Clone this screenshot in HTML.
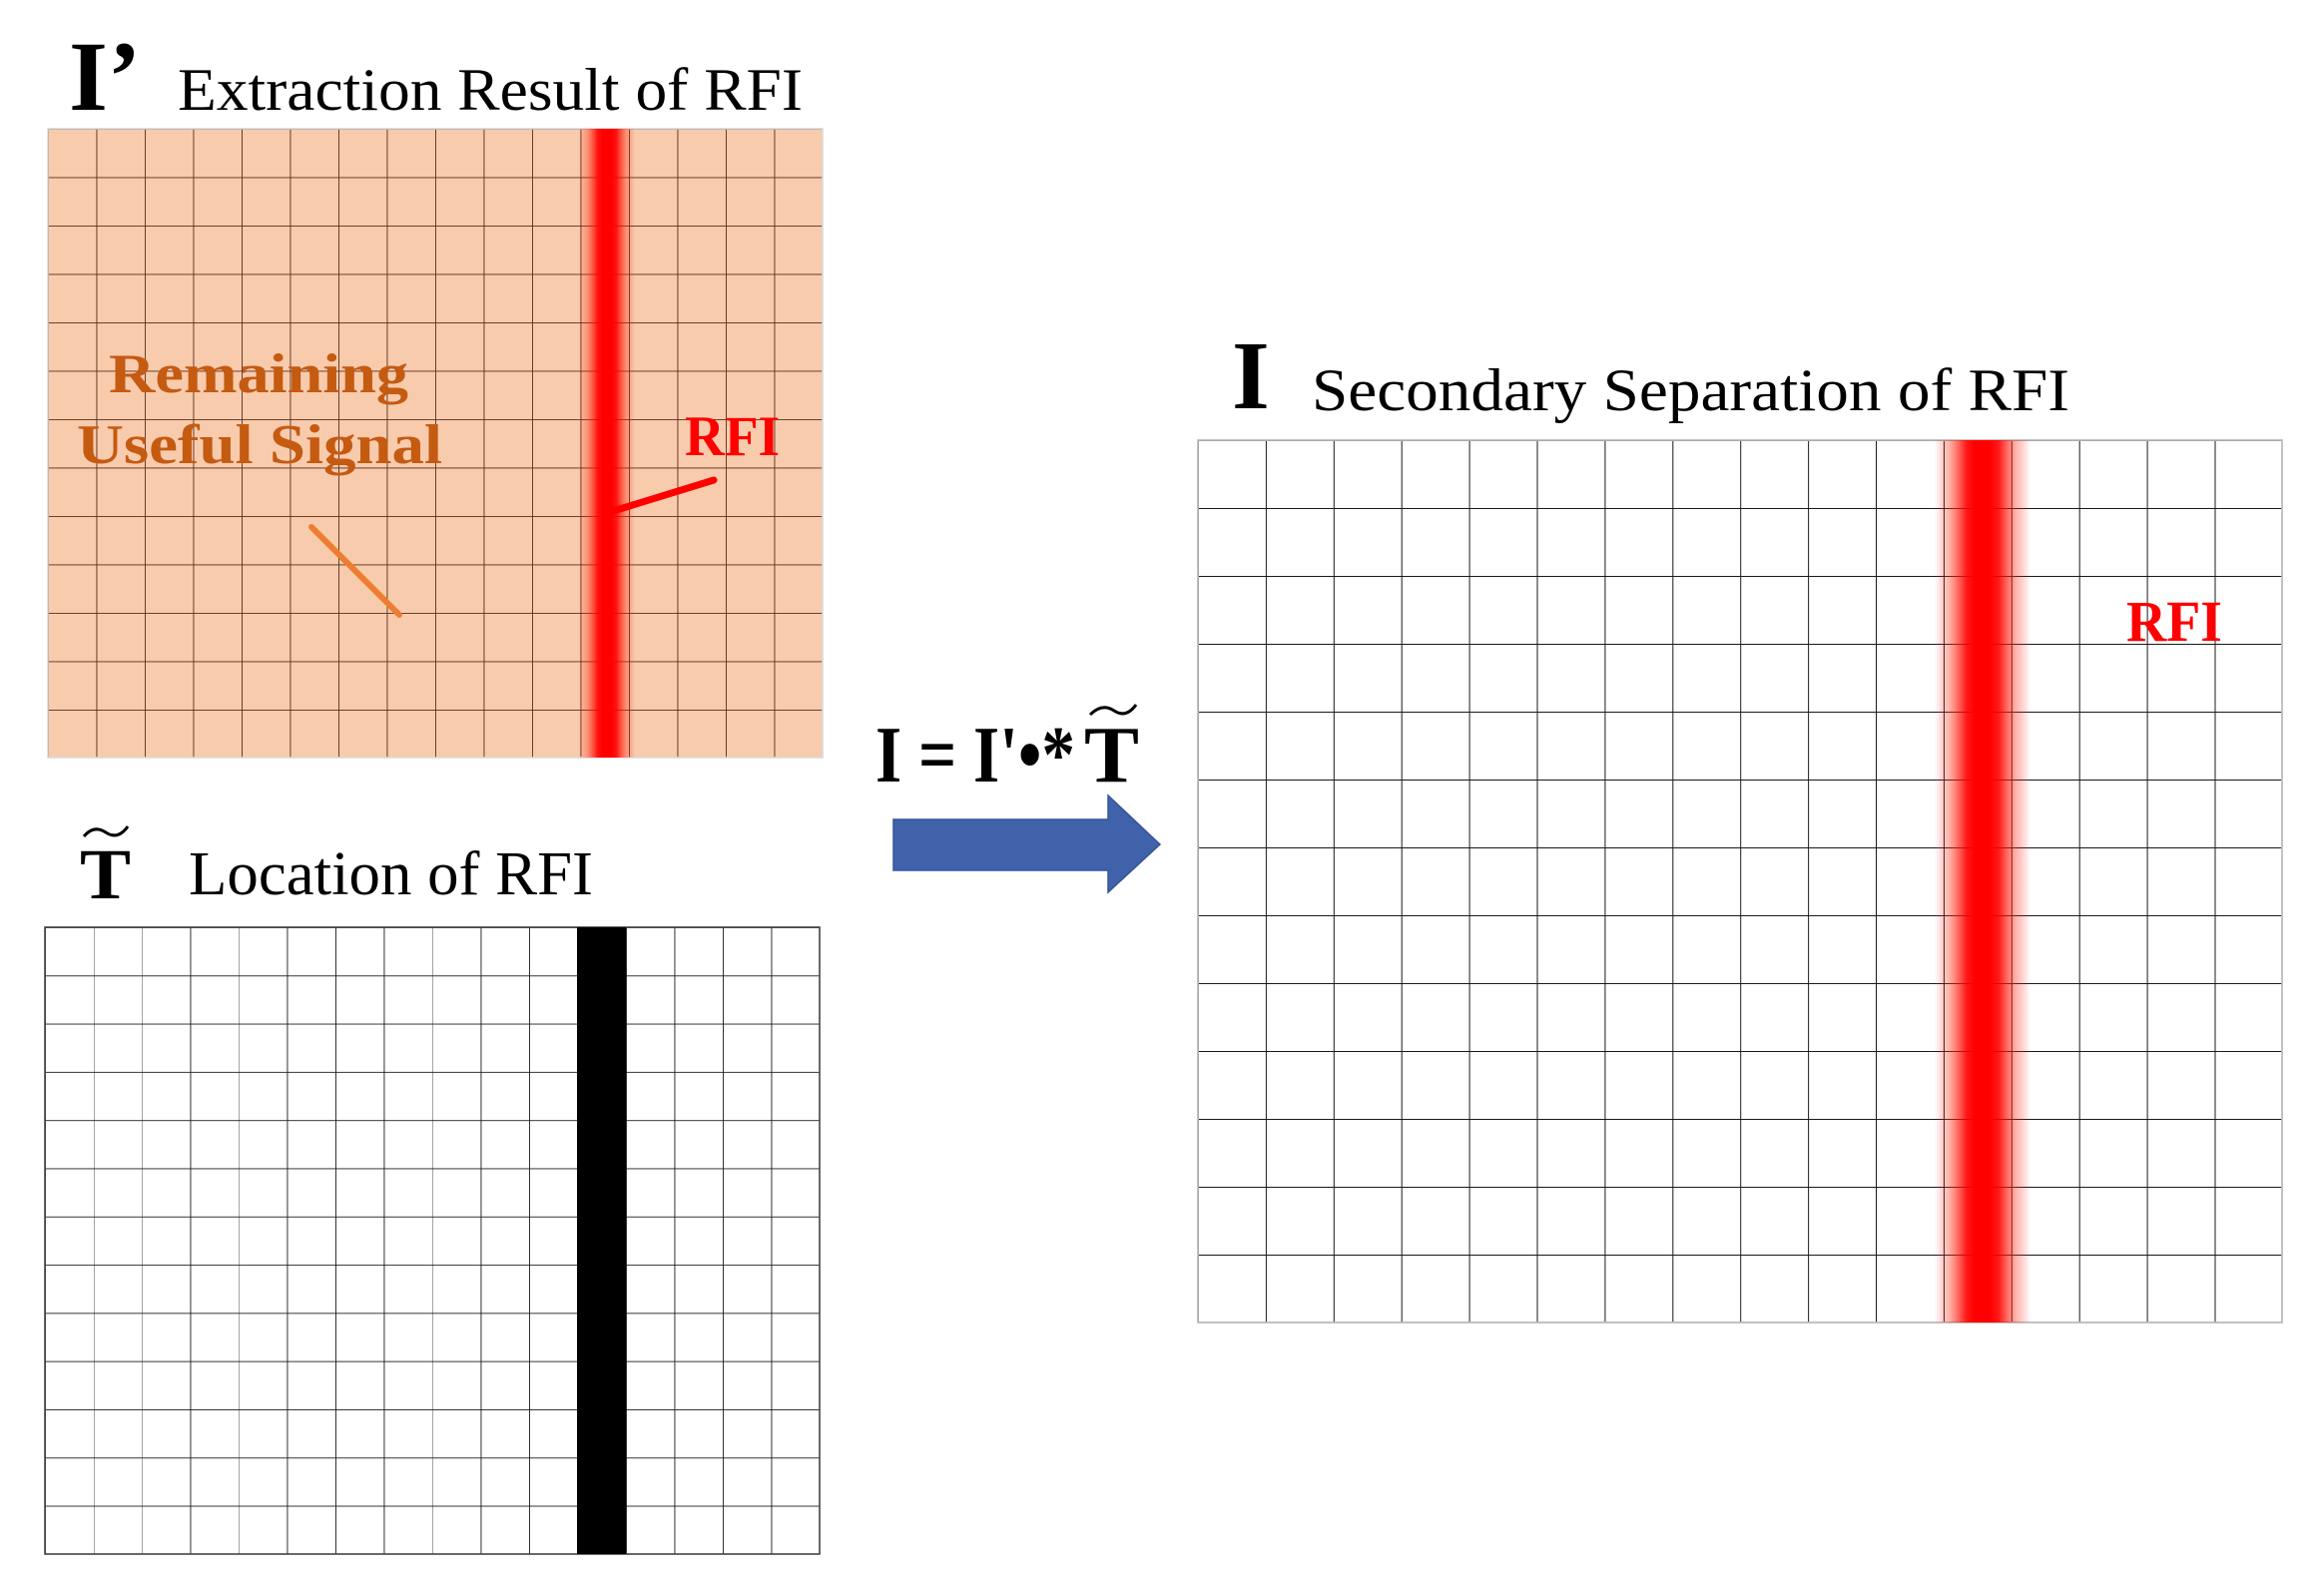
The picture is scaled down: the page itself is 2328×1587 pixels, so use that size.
<!DOCTYPE html>
<html><head><meta charset="utf-8"><style>html,body{margin:0;padding:0;background:#fff;}svg{display:block}</style></head>
<body>
<svg width="2328" height="1587" viewBox="0 0 2328 1587" xmlns="http://www.w3.org/2000/svg" font-family="'Liberation Serif', serif">
<defs>
<linearGradient id="rb1" x1="0" x2="1" y1="0" y2="0">
<stop offset="0" stop-color="#ff0000" stop-opacity="0"/>
<stop offset="0.15" stop-color="#ff2a10" stop-opacity="0.35"/>
<stop offset="0.33" stop-color="#ff0000" stop-opacity="0.9"/>
<stop offset="0.42" stop-color="#ff0000"/>
<stop offset="0.58" stop-color="#ff0000"/>
<stop offset="0.67" stop-color="#ff0000" stop-opacity="0.9"/>
<stop offset="0.85" stop-color="#ff2a10" stop-opacity="0.35"/>
<stop offset="1" stop-color="#ff0000" stop-opacity="0"/>
</linearGradient>
<pattern id="g1" x="48" y="129" width="48.5" height="48.5" patternUnits="userSpaceOnUse">
<path d="M0 0H48.5M0 0V48.5" stroke="#5a2e18" stroke-width="1.8" fill="none"/>
</pattern>
<pattern id="g2" x="45" y="929" width="48.5" height="48.3" patternUnits="userSpaceOnUse">
<path d="M0 0H48.5M0 0V48.3" stroke="#1a1a1a" stroke-width="1.8" fill="none"/>
</pattern>
<pattern id="g3" x="1200" y="441" width="67.9" height="68" patternUnits="userSpaceOnUse">
<path d="M0 0H67.9M0 0V68" stroke="#1a1a1a" stroke-width="2" fill="none"/>
</pattern>
</defs>

<!-- Grid 1 -->
<rect x="48" y="129" width="776" height="630" fill="#f8cbad"/>
<rect x="48" y="129" width="776" height="630" fill="url(#g1)"/>
<rect x="48" y="129" width="776" height="630" fill="none" stroke="#d9d9d9" stroke-width="1.5"/>
<rect x="580" y="129" width="56" height="630" fill="url(#rb1)"/>
<text x="69" y="110" font-size="100" font-weight="bold">I’</text>
<text x="178" y="110" font-size="60" textLength="626" lengthAdjust="spacingAndGlyphs">Extraction Result of RFI</text>
<text x="109" y="393" font-size="56" font-weight="bold" fill="#c55a11" textLength="300" lengthAdjust="spacingAndGlyphs">Remaining</text>
<text x="77" y="464" font-size="56" font-weight="bold" fill="#c55a11" textLength="366" lengthAdjust="spacingAndGlyphs">Useful Signal</text>
<text x="686" y="456" font-size="57" font-weight="bold" fill="#ff0000" textLength="95" lengthAdjust="spacingAndGlyphs">RFI</text>
<line x1="611" y1="513" x2="715" y2="481" stroke="#ff0000" stroke-width="7" stroke-linecap="round"/>
<line x1="312" y1="528" x2="400" y2="616" stroke="#ed7d31" stroke-width="6" stroke-linecap="round"/>

<!-- Grid 2 -->
<rect x="45" y="929" width="776" height="628" fill="url(#g2)"/>
<rect x="45" y="929" width="776" height="628" fill="none" stroke="#444" stroke-width="1.6"/>
<rect x="578" y="929" width="49" height="628" fill="#000"/>
<text x="80" y="900" font-size="72" font-weight="bold" textLength="51" lengthAdjust="spacingAndGlyphs">T</text>
<path d="M84 838 Q94 826 106 834 T128 828" stroke="#000" stroke-width="3" fill="none"/>
<text x="189" y="896" font-size="62" textLength="405" lengthAdjust="spacingAndGlyphs">Location of RFI</text>

<!-- Formula + arrow -->
<text x="877" y="783" font-size="80" font-weight="bold" textLength="200" lengthAdjust="spacingAndGlyphs">I = I'•*</text>
<text x="1086" y="783" font-size="80" font-weight="bold" textLength="55" lengthAdjust="spacingAndGlyphs">T</text>
<path d="M1092 716 Q1104 704 1116 712 T1138 706" stroke="#000" stroke-width="3" fill="none"/>
<polygon points="895,821 1110,821 1110,797 1162,846 1110,894 1110,872 895,872" fill="#3f62ab" stroke="#35549a" stroke-width="1.5"/>

<!-- Grid 3 -->
<rect x="1200" y="441" width="1086" height="884" fill="url(#g3)"/>
<rect x="1200" y="441" width="1086" height="884" fill="none" stroke="#bbb" stroke-width="1.8"/>
<rect x="1938" y="441" width="96" height="884" fill="url(#rb1)"/>
<text x="1234" y="409" font-size="97" font-weight="bold">I</text>
<text x="1314" y="411" font-size="60" textLength="759" lengthAdjust="spacingAndGlyphs">Secondary Separation of RFI</text>
<text x="2130" y="642" font-size="58" font-weight="bold" fill="#ff0000" textLength="96" lengthAdjust="spacingAndGlyphs">RFI</text>
</svg>
</body></html>
